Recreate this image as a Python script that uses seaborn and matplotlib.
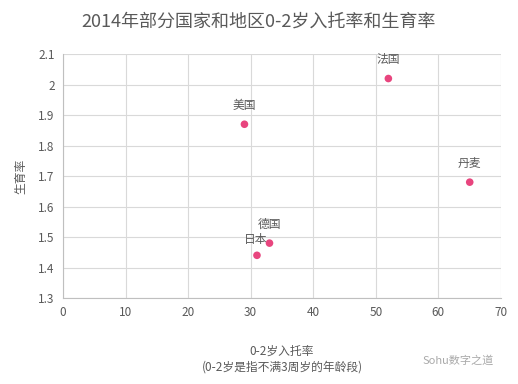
import matplotlib
matplotlib.use("Agg")
import matplotlib.pyplot as plt
import seaborn as sns
import pandas as pd

countries = ["法国", "美国", "丹麦", "德国", "日本"]
enroll = [52, 29, 65, 33, 31]
fertility = [2.02, 1.87, 1.68, 1.48, 1.44]
x_ticks = [0, 10, 20, 30, 40, 50, 60, 70]
y_ticks = [1.3, 1.4, 1.5, 1.6, 1.7, 1.8, 1.9, 2.0, 2.1]
y_tick_labels = ["1.3", "1.4", "1.5", "1.6", "1.7", "1.8", "1.9", "2", "2.1"]

sns.set_theme(style="whitegrid")
plt.rcParams['font.family'] = ['Noto Sans CJK SC', 'DejaVu Sans']

df = pd.DataFrame({"country": countries, "x": enroll, "y": fertility})

fig = plt.figure(figsize=(5.18, 3.84), dpi=100)
ax = fig.add_axes([0.1216, 0.224, 0.8456, 0.635])
sns.scatterplot(data=df, x="x", y="y", ax=ax, color="#E8457E", s=30, edgecolor="none", zorder=3)

offsets = {"法国": (0, 9), "美国": (0, 9), "丹麦": (0, 9), "德国": (0, 9), "日本": (-1, 7)}
for c, xv, yv in zip(countries, enroll, fertility):
    dx, dy = offsets[c]
    ax.annotate(c, (xv, yv), xytext=(dx, dy), textcoords="offset points",
                ha="center", va="bottom", fontsize=8.5, color="#595959")

ax.set_xlim(0, 70)
ax.set_ylim(1.3, 2.1)
ax.set_xticks(x_ticks)
ax.set_yticks(y_ticks)
ax.set_yticklabels(y_tick_labels)
ax.tick_params(axis="both", labelsize=8.5, colors="#595959", length=0, pad=6)
ax.grid(True, color="#D9D9D9", linewidth=0.8)
for side in ["top", "right"]:
    ax.spines[side].set_visible(False)
for side in ["left", "bottom"]:
    ax.spines[side].set_color("#BFBFBF")
    ax.spines[side].set_linewidth(0.8)

ax.set_xlabel("0-2岁入托率\n(0-2岁是指不满3周岁的年龄段)", fontsize=8.5, color="#595959", labelpad=18, linespacing=1.3)
ax.set_ylabel("生育率", fontsize=8.5, color="#595959", labelpad=8)

fig.text(0.5, 0.945, "2014年部分国家和地区0-2岁入托率和生育率", ha="center", va="center",
         fontsize=13, color="#595959")
fig.text(0.885, 0.062, "Sohu数字之道", ha="center", va="center", fontsize=8, color="#AAAAAA")

fig.savefig("out.png", dpi=100)
